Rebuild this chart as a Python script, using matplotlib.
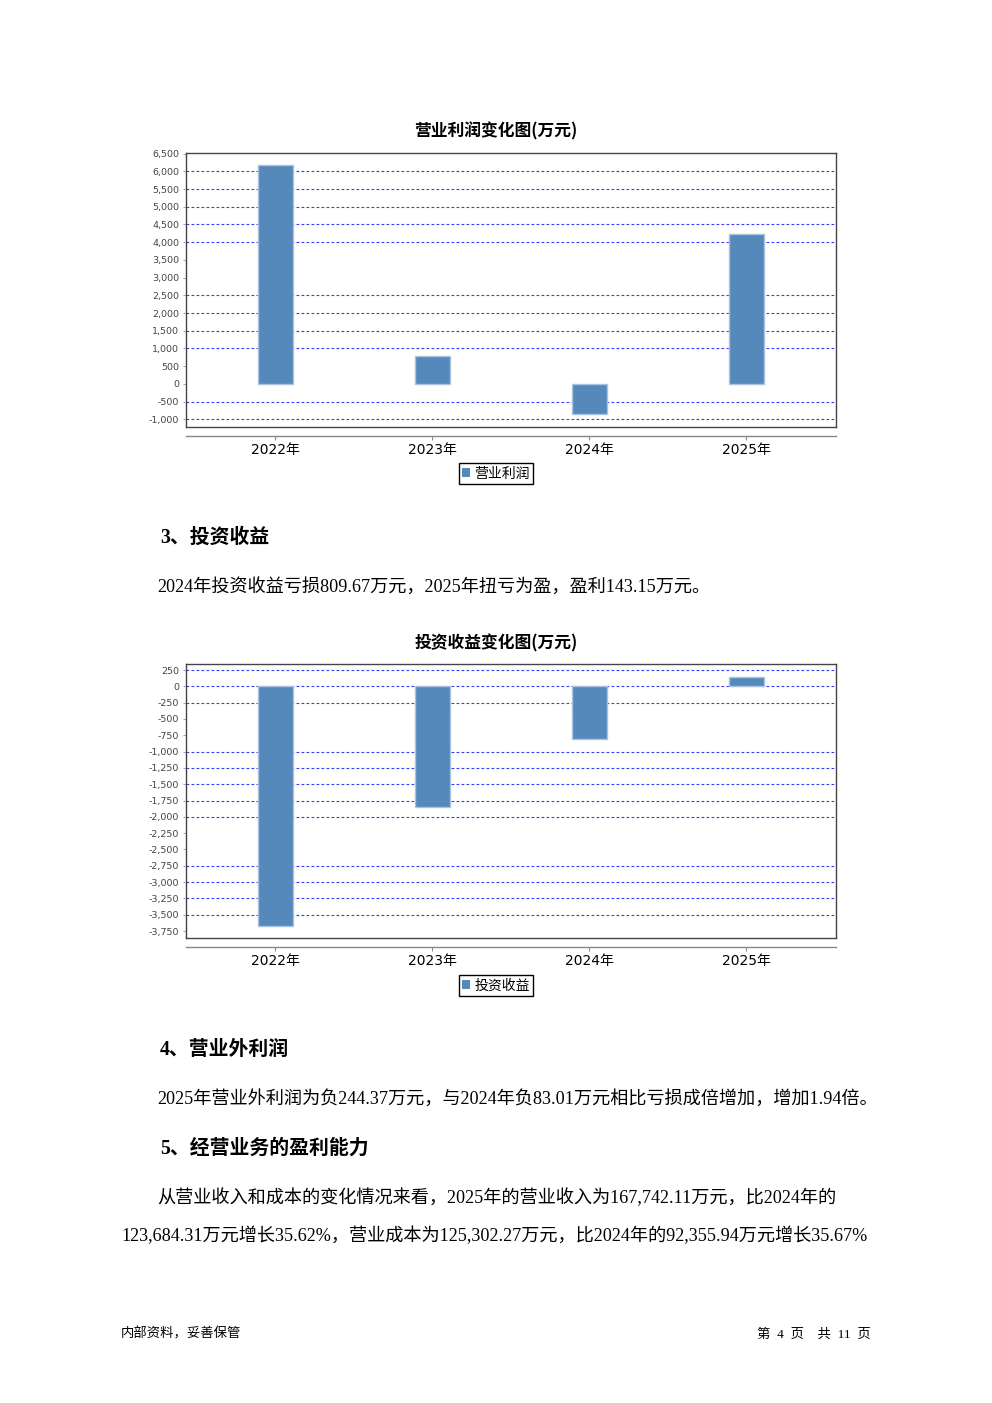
import matplotlib
matplotlib.use('Agg')
import matplotlib.pyplot as plt
from matplotlib.patches import Patch

# ---------------- data ----------------
years = ['2022年', '2023年', '2024年', '2025年']
op_profit = [6190, 780, -860, 4230]           # 营业利润 (万元)
inv_income = [-3680, -1845, -809.67, 143.15]  # 投资收益 (万元)
op_ticks = list(range(-1000, 6501, 500))
inv_ticks = list(range(-3750, 251, 250))
op_grid = [-1000, -500, 1000, 1500, 2000, 2500, 4000, 4500, 5000, 5500, 6000]
inv_grid = [250, 0, -250, -1000, -1250, -1500, -1750, -2000, -2750, -3000, -3250, -3500]

plt.rcParams['font.family'] = ['DejaVu Sans', 'Noto Sans CJK SC']

W, H = 992, 1403
fig = plt.figure(figsize=(W / 100, H / 100), dpi=100)


def fx(px):
    return px / W


def fy(py):
    return 1 - py / H


BAR = '#5589BC'
EDGE = '#A9C4DE'
CJK = ['Noto Sans CJK SC']
SANS = ['DejaVu Sans', 'Noto Sans CJK SC']
SERIF = ['Liberation Serif', 'Noto Sans CJK SC']


def chart(top, bottom, vals, ylim, ticks, grid, title, title_y, legend_label, legend_y):
    ax = fig.add_axes([fx(186), fy(bottom), fx(836) - fx(186), fy(top) - fy(bottom)])
    x = list(range(len(years)))
    ax.bar(x, vals, width=0.223, color=BAR, edgecolor=EDGE, linewidth=1, zorder=3)
    for g in grid:
        ax.axhline(g, color='#3B3BFF', lw=0.8, ls=(0, (2.5, 2)), zorder=1)
    ax.set_xlim(-0.567, 3.573)
    ax.set_ylim(*ylim)
    ax.set_yticks(ticks)
    ax.set_yticklabels([f'{t:,}' for t in ticks])
    for lbl in ax.get_yticklabels():
        lbl.set_fontfamily('DejaVu Sans')
        lbl.set_fontsize(6.8)
        lbl.set_color('#444444')
    ax.tick_params(axis='y', length=2, width=0.8, color='#aaaaaa', pad=3)
    ax.set_xticks(x)
    ax.set_xticklabels(years)
    for lbl in ax.get_xticklabels():
        lbl.set_fontfamily(SANS)
        lbl.set_fontsize(7.8)
        lbl.set_color('#333333')
    ax.tick_params(axis='x', length=3, width=0.8, color='#888888', pad=2)
    for s in ['top', 'left', 'right']:
        ax.spines[s].set_color('#444444')
        ax.spines[s].set_linewidth(1)
    ax.spines['bottom'].set_position(('outward', 6.5))
    ax.spines['bottom'].set_color('#888888')
    ax.spines['bottom'].set_linewidth(1)
    ax.plot([0, 1], [0, 0], transform=ax.transAxes, color='#444444', lw=1, clip_on=False)
    fig.text(0.5, fy(title_y), title, ha='center', va='center', family=CJK,
             weight='bold', fontsize=12.1)
    leg = ax.legend(handles=[Patch(facecolor=BAR, edgecolor='none', label=legend_label)],
                    loc='center', bbox_to_anchor=(fx(496), fy(legend_y)),
                    bbox_transform=fig.transFigure, fancybox=False, edgecolor='black',
                    framealpha=1, handlelength=0.6, handleheight=0.6,
                    handletextpad=0.3, borderpad=0.25, borderaxespad=0,
                    prop={'family': CJK, 'size': 10})
    leg.get_frame().set_linewidth(1)
    return ax


chart(153, 427, op_profit, (-1217, 6517), op_ticks, op_grid,
      '营业利润变化图(万元)', 131, '营业利润', 473.5)
chart(664, 938, inv_income, (-3857, 342), inv_ticks, inv_grid,
      '投资收益变化图(万元)', 643, '投资收益', 985.5)

# ---------------- page text ----------------
def heading(y, s):
    fig.text(fx(160), fy(y), s, ha='left', va='center', family=SERIF,
             weight='bold', fontsize=14.3)


def body(x, y, s, ha='left'):
    fig.text(fx(x), fy(y), s, ha=ha, va='center', family=SERIF, fontsize=13.1)


heading(538, '3、投资收益')
body(157, 587, '2024年投资收益亏损809.67万元，2025年扭亏为盈，盈利143.15万元。')
heading(1050, '4、营业外利润')
body(157, 1099, '2025年营业外利润为负244.37万元，与2024年负83.01万元相比亏损成倍增加，增加1.94倍。')
heading(1149, '5、经营业务的盈利能力')
body(157, 1198, '从营业收入和成本的变化情况来看，2025年的营业收入为167,742.11万元，比2024年的')
body(121, 1236, '123,684.31万元增长35.62%，营业成本为125,302.27万元，比2024年的92,355.94万元增长35.67%')

fig.text(fx(121), fy(1334), '内部资料，妥善保管', ha='left', va='center', family=SERIF, fontsize=9.6)
fig.text(fx(871), fy(1334), '第  4  页    共  11  页', ha='right', va='center', family=SERIF, fontsize=9.6)

fig.savefig('out.png', dpi=100, facecolor='white')
